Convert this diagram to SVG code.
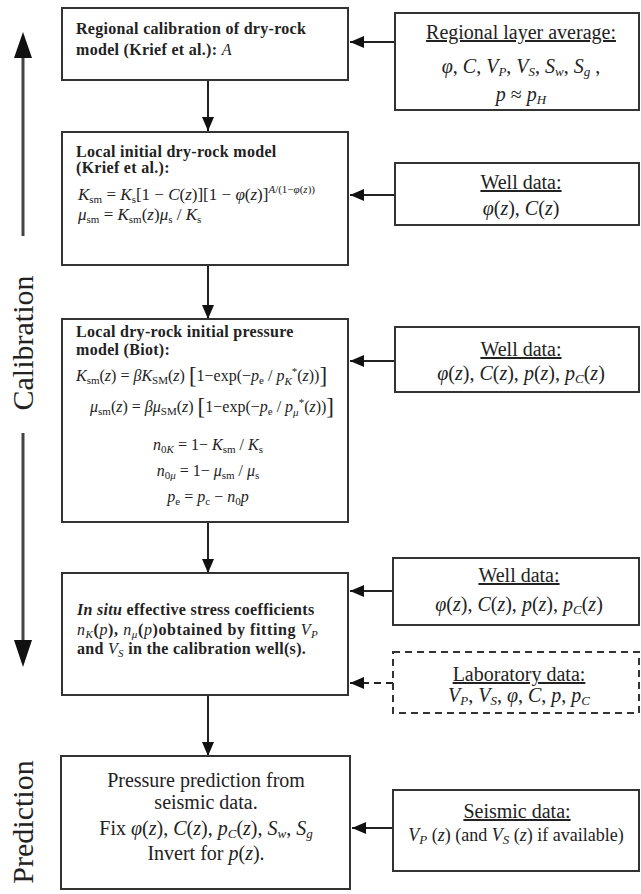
<svg xmlns="http://www.w3.org/2000/svg" width="641" height="894" viewBox="0 0 641 894">
<defs>
<style>
.box{fill:#fff;stroke:#333;stroke-width:2}
.dash{stroke-dasharray:7 5}
.con{stroke:#222;stroke-width:2;fill:none}
.t{font-family:"Liberation Serif","Times New Roman",serif;font-size:16px;fill:#222}
.r{font-size:20px}
.f17{font-size:17px}
.b{font-weight:bold;letter-spacing:0.3px}
.i{font-style:italic}
.s{font-size:11px}
.s2{font-size:13px}
.n{font-weight:normal}
.side{font-family:"Liberation Serif","Times New Roman",serif;font-size:30px;fill:#222}
.ax{stroke:#444;stroke-width:3}
</style>
<marker id="ah" markerUnits="userSpaceOnUse" markerWidth="14" markerHeight="12" refX="14" refY="6" orient="auto">
<path d="M0,0 L14,6 L0,12 z" fill="#111"/>
</marker>
</defs>
<rect width="641" height="894" fill="#fff"/>

<g id="side">
<line class="ax" x1="23" y1="236" x2="23" y2="55"/>
<polygon points="23,32 14,58 32,58" fill="#111"/>
<text class="side" text-anchor="middle" transform="translate(33,343) rotate(-90)">Calibration</text>
<line class="ax" x1="23" y1="433" x2="23" y2="642"/>
<polygon points="23,667 14,640 32,640" fill="#111"/>
<text class="side" text-anchor="middle" transform="translate(33,822) rotate(-90)">Prediction</text>
</g>

<g id="connectors">
<line class="con" x1="208" y1="80" x2="208" y2="131" marker-end="url(#ah)"/>
<line class="con" x1="208" y1="265" x2="208" y2="319" marker-end="url(#ah)"/>
<line class="con" x1="208" y1="522" x2="208" y2="573" marker-end="url(#ah)"/>
<line class="con" x1="208" y1="695" x2="208" y2="756" marker-end="url(#ah)"/>
<line class="con" x1="395" y1="42" x2="350" y2="42" marker-end="url(#ah)"/>
<line class="con" x1="395" y1="195" x2="350" y2="195" marker-end="url(#ah)"/>
<line class="con" x1="395" y1="361" x2="350" y2="361" marker-end="url(#ah)"/>
<line class="con" x1="393" y1="591" x2="350" y2="591" marker-end="url(#ah)"/>
<line class="con dash" x1="393" y1="683" x2="350" y2="683" marker-end="url(#ah)"/>
<line class="con" x1="393" y1="828" x2="352" y2="828" marker-end="url(#ah)"/>
</g>

<g id="regional-calibration">
<rect class="box" x="62" y="8" width="286" height="72"/>
<text class="t b" x="76" y="34">Regional calibration of dry-rock</text>
<text class="t b" x="76" y="55">model (Krief et al.): <tspan class="i n">A</tspan></text>
</g>

<g id="local-initial">
<rect class="box" x="62" y="132" width="286" height="133"/>
<text class="t b" x="76" y="157">Local initial dry-rock model</text>
<text class="t b" x="76" y="173">(Krief et al.):</text>
<text class="t f17" x="78" y="200"><tspan class="i">K</tspan><tspan class="s" dy="3">sm</tspan><tspan dy="-3"> = </tspan><tspan class="i">K</tspan><tspan class="s" dy="3">s</tspan><tspan dy="-3">[1 − </tspan><tspan class="i">C</tspan>(<tspan class="i">z</tspan>)][1 − <tspan class="i">φ</tspan>(<tspan class="i">z</tspan>)]<tspan class="s" dy="-7"><tspan class="i">A</tspan>/(1−<tspan class="i">φ</tspan>(<tspan class="i">z</tspan>))</tspan></text>
<text class="t f17" x="78" y="220"><tspan class="i">μ</tspan><tspan class="s" dy="3">sm</tspan><tspan dy="-3"> = </tspan><tspan class="i">K</tspan><tspan class="s" dy="3">sm</tspan><tspan dy="-3">(</tspan><tspan class="i">z</tspan>)<tspan class="i">μ</tspan><tspan class="s" dy="3">s</tspan><tspan dy="-3"> / </tspan><tspan class="i">K</tspan><tspan class="s" dy="3">s</tspan></text>
</g>

<g id="local-pressure">
<rect class="box" x="62" y="319" width="286" height="203"/>
<text class="t b" x="76" y="337">Local dry-rock initial pressure</text>
<text class="t b" x="76" y="355">model (Biot):</text>
<text class="t" x="76" y="381"><tspan class="i">K</tspan><tspan class="s" dy="3">sm</tspan><tspan dy="-3">(</tspan><tspan class="i">z</tspan>) = <tspan class="i">βK</tspan><tspan class="s" dy="3">SM</tspan><tspan dy="-3">(</tspan><tspan class="i">z</tspan>) <tspan font-size="23" dy="2">[</tspan><tspan dy="-2">1−exp(−</tspan><tspan class="i">p</tspan><tspan class="s" dy="3">e</tspan><tspan dy="-3"> / </tspan><tspan class="i">p</tspan><tspan class="s i" dy="4">K</tspan><tspan class="s" dy="-10">*</tspan><tspan dy="6">(</tspan><tspan class="i">z</tspan>))<tspan font-size="23" dy="2">]</tspan></text>
<text class="t" x="90" y="412"><tspan class="i">μ</tspan><tspan class="s" dy="3">sm</tspan><tspan dy="-3">(</tspan><tspan class="i">z</tspan>) = <tspan class="i">βμ</tspan><tspan class="s" dy="3">SM</tspan><tspan dy="-3">(</tspan><tspan class="i">z</tspan>) <tspan font-size="23" dy="2">[</tspan><tspan dy="-2">1−exp(−</tspan><tspan class="i">p</tspan><tspan class="s" dy="3">e</tspan><tspan dy="-3"> / </tspan><tspan class="i">p</tspan><tspan class="s i" dy="4">μ</tspan><tspan class="s" dy="-10">*</tspan><tspan dy="6">(</tspan><tspan class="i">z</tspan>))<tspan font-size="23" dy="2">]</tspan></text>
<text class="t" x="208" y="450" text-anchor="middle"><tspan class="i">n</tspan><tspan class="s" dy="3">0<tspan class="i">K</tspan></tspan><tspan dy="-3"> = 1− </tspan><tspan class="i">K</tspan><tspan class="s" dy="3">sm</tspan><tspan dy="-3"> / </tspan><tspan class="i">K</tspan><tspan class="s" dy="3">s</tspan></text>
<text class="t" x="208" y="476" text-anchor="middle"><tspan class="i">n</tspan><tspan class="s" dy="3">0<tspan class="i">μ</tspan></tspan><tspan dy="-3"> = 1− </tspan><tspan class="i">μ</tspan><tspan class="s" dy="3">sm</tspan><tspan dy="-3"> / </tspan><tspan class="i">μ</tspan><tspan class="s" dy="3">s</tspan></text>
<text class="t" x="208" y="502" text-anchor="middle"><tspan class="i">p</tspan><tspan class="s" dy="3">e</tspan><tspan dy="-3"> = </tspan><tspan class="i">p</tspan><tspan class="s" dy="3">c</tspan><tspan dy="-3"> − </tspan><tspan class="i">n</tspan><tspan class="s" dy="3">0</tspan><tspan class="i" dy="-3">p</tspan></text>
</g>

<g id="in-situ">
<rect class="box" x="62" y="573" width="286" height="122"/>
<text class="t b" x="77" y="615"><tspan class="i">In situ</tspan> effective stress coefficients</text>
<text class="t b" x="77" y="635" style="letter-spacing:0.6px"><tspan class="i n">n</tspan><tspan class="s i n" dy="3">K</tspan><tspan dy="-3">(</tspan><tspan class="i n">p</tspan>), <tspan class="i n">n</tspan><tspan class="s i n" dy="3">μ</tspan><tspan dy="-3">(</tspan><tspan class="i n">p</tspan>)obtained by fitting <tspan class="i n">V</tspan><tspan class="s i n" dy="3">P</tspan></text>
<text class="t b" x="77" y="654">and <tspan class="i n">V</tspan><tspan class="s i n" dy="3">S</tspan><tspan dy="-3"> in the calibration well(s).</tspan></text>
</g>

<g id="prediction">
<rect class="box" x="61" y="756" width="289" height="133"/>
<text class="t r" x="206" y="787" text-anchor="middle">Pressure prediction from</text>
<text class="t r" x="206" y="809" text-anchor="middle">seismic data.</text>
<text class="t r" x="206" y="835" text-anchor="middle">Fix  <tspan class="i">φ</tspan>(<tspan class="i">z</tspan>), <tspan class="i">C</tspan>(<tspan class="i">z</tspan>),  <tspan class="i">p</tspan><tspan class="s2 i" dy="3">C</tspan><tspan dy="-3">(</tspan><tspan class="i">z</tspan>), <tspan class="i">S</tspan><tspan class="s2 i" dy="3">w</tspan><tspan dy="-3">, </tspan><tspan class="i">S</tspan><tspan class="s2 i" dy="3">g</tspan></text>
<text class="t r" x="206" y="860" text-anchor="middle">Invert for  <tspan class="i">p</tspan>(<tspan class="i">z</tspan>).</text>
</g>

<g id="regional-average">
<rect class="box" x="395" y="13" width="244" height="97"/>
<text class="t r" x="521" y="39" text-anchor="middle" text-decoration="underline">Regional layer average:</text>
<text class="t r" x="521" y="73" text-anchor="middle"><tspan class="i">φ</tspan>, <tspan class="i">C</tspan>, <tspan class="i">V</tspan><tspan class="s2 i" dy="3">P</tspan><tspan dy="-3">, </tspan><tspan class="i">V</tspan><tspan class="s2 i" dy="3">S</tspan><tspan dy="-3">, </tspan><tspan class="i">S</tspan><tspan class="s2 i" dy="3">w</tspan><tspan dy="-3">, </tspan><tspan class="i">S</tspan><tspan class="s2 i" dy="3">g</tspan><tspan dy="-3"> ,</tspan></text>
<text class="t r" x="521" y="101" text-anchor="middle"><tspan class="i">p</tspan> ≈ <tspan class="i">p</tspan><tspan class="s2 i" dy="3">H</tspan></text>
</g>

<g id="well-data-1">
<rect class="box" x="395" y="163" width="244" height="62"/>
<text class="t r" x="521" y="189" text-anchor="middle" text-decoration="underline">Well data:</text>
<text class="t r" x="521" y="215" text-anchor="middle"><tspan class="i">φ</tspan>(<tspan class="i">z</tspan>), <tspan class="i">C</tspan>(<tspan class="i">z</tspan>)</text>
</g>

<g id="well-data-2">
<rect class="box" x="395" y="327" width="244" height="65"/>
<text class="t r" x="521" y="356" text-anchor="middle" text-decoration="underline">Well data:</text>
<text class="t r" x="521" y="380" text-anchor="middle"><tspan class="i">φ</tspan>(<tspan class="i">z</tspan>), <tspan class="i">C</tspan>(<tspan class="i">z</tspan>), <tspan class="i">p</tspan>(<tspan class="i">z</tspan>), <tspan class="i">p</tspan><tspan class="s2 i" dy="3">C</tspan><tspan dy="-3">(</tspan><tspan class="i">z</tspan>)</text>
</g>

<g id="well-data-3">
<rect class="box" x="393" y="558" width="246" height="67"/>
<text class="t r" x="519" y="582" text-anchor="middle" text-decoration="underline">Well data:</text>
<text class="t r" x="519" y="611" text-anchor="middle"><tspan class="i">φ</tspan>(<tspan class="i">z</tspan>), <tspan class="i">C</tspan>(<tspan class="i">z</tspan>), <tspan class="i">p</tspan>(<tspan class="i">z</tspan>), <tspan class="i">p</tspan><tspan class="s2 i" dy="3">C</tspan><tspan dy="-3">(</tspan><tspan class="i">z</tspan>)</text>
</g>

<g id="laboratory-data">
<rect class="box dash" x="393" y="652" width="246" height="61"/>
<text class="t r" x="519" y="681" text-anchor="middle" text-decoration="underline">Laboratory data:</text>
<text class="t r" x="519" y="702" text-anchor="middle"><tspan class="i">V</tspan><tspan class="s2 i" dy="3">P</tspan><tspan dy="-3">, </tspan><tspan class="i">V</tspan><tspan class="s2 i" dy="3">S</tspan><tspan dy="-3">, </tspan><tspan class="i">φ</tspan>, <tspan class="i">C</tspan>, <tspan class="i">p</tspan>, <tspan class="i">p</tspan><tspan class="s2 i" dy="3">C</tspan></text>
</g>

<g id="seismic-data">
<rect class="box" x="393" y="790" width="246" height="81"/>
<text class="t r" x="517" y="818" text-anchor="middle" text-decoration="underline">Seismic data:</text>
<text class="t" x="516" y="841" text-anchor="middle" style="font-size:18px"><tspan class="i">V</tspan><tspan class="s2 i" dy="3">P</tspan><tspan dy="-3"> (</tspan><tspan class="i">z</tspan>)  (and <tspan class="i">V</tspan><tspan class="s2 i" dy="3">S</tspan><tspan dy="-3"> (</tspan><tspan class="i">z</tspan>) if available)</text>
</g>
</svg>
